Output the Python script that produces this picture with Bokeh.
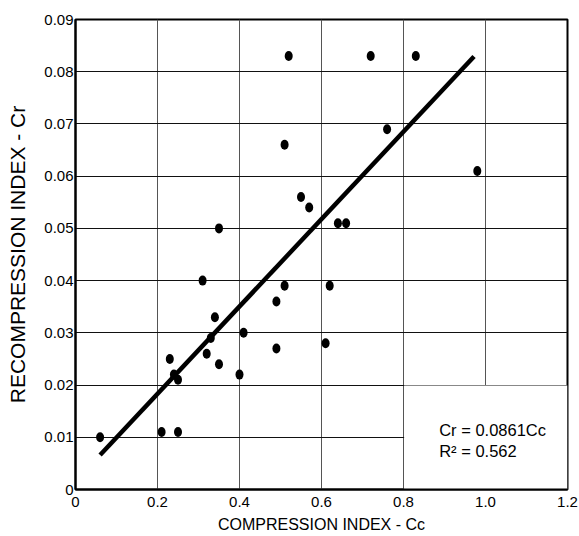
from bokeh.plotting import figure
from bokeh.models import Range1d, FixedTicker, Label
from bokeh.embed import file_html
from bokeh.resources import INLINE

# Data
cc = [0.06, 0.21, 0.25, 0.23, 0.24, 0.25, 0.31, 0.34, 0.33, 0.32, 0.35, 0.40,
      0.41, 0.49, 0.51, 0.49, 0.35, 0.51, 0.52, 0.55, 0.57, 0.72, 0.83, 0.76,
      0.98, 0.64, 0.66, 0.62, 0.61]
cr = [0.010, 0.011, 0.011, 0.025, 0.022, 0.021, 0.040, 0.033, 0.029, 0.026,
      0.024, 0.022, 0.030, 0.036, 0.039, 0.027, 0.050, 0.066, 0.083, 0.056,
      0.054, 0.083, 0.083, 0.069, 0.061, 0.051, 0.051, 0.039, 0.028]

fit_x = [0.06, 0.972]
fit_y = [0.0066, 0.0829]

x_ticks = [0, 0.2, 0.4, 0.6, 0.8, 1.0, 1.2]
x_tick_labels = ["0", "0.2", "0.4", "0.6", "0.8", "1.0", "1.2"]
y_ticks = [0, 0.01, 0.02, 0.03, 0.04, 0.05, 0.06, 0.07, 0.08, 0.09]
y_tick_labels = ["0", "0.01", "0.02", "0.03", "0.04", "0.05", "0.06", "0.07", "0.08", "0.09"]

eq_text = "Cr = 0.0861Cc"
r2_text = "R\u00b2 = 0.562"

SANS = "Liberation Sans"

p = figure(width=579, height=536, output_backend="svg", toolbar_location=None,
           x_range=Range1d(0, 1.2), y_range=Range1d(0, 0.09),
           min_border_left=75, min_border_right=12, min_border_top=19, min_border_bottom=47)
p.background_fill_color = "white"
p.border_fill_color = "white"
p.outline_line_color = "black"
p.outline_line_width = 2

# white box behind the equation (grid removed there)
p.quad(left=0.8015, right=1.2, bottom=0, top=0.0199, fill_color="white", line_color=None)

p.line(fit_x, fit_y, line_color="black", line_width=4.5)
p.ellipse(x=cc, y=cr, width=8, height=10, width_units="screen", height_units="screen",
          fill_color="black", line_color=None)

p.xaxis.ticker = FixedTicker(ticks=x_ticks)
p.yaxis.ticker = FixedTicker(ticks=y_ticks)
p.xaxis.major_label_overrides = {t: l for t, l in zip(x_ticks, x_tick_labels)}
p.yaxis.major_label_overrides = {t: l for t, l in zip(y_ticks, y_tick_labels)}

for ax in (p.xaxis, p.yaxis):
    ax.axis_line_color = "black"
    ax.axis_line_width = 2
    ax.major_tick_in = 0
    ax.major_tick_out = 0
    ax.minor_tick_line_color = None
    ax.major_label_text_font = SANS
    ax.major_label_text_font_size = "15px"
    ax.major_label_text_color = "black"
    ax.axis_label_text_font = SANS
    ax.axis_label_text_font_style = "normal"
    ax.axis_label_text_color = "black"

p.xaxis.major_label_standoff = 7
p.yaxis.major_label_standoff = 2
p.xaxis.axis_label = "COMPRESSION INDEX - Cc"
p.xaxis.axis_label_text_font_size = "16px"
p.xaxis.axis_label_standoff = 6
p.yaxis.axis_label = "RECOMPRESSION INDEX - Cr"
p.yaxis.axis_label_text_font_size = "21px"
p.yaxis.axis_label_standoff = 12

p.xgrid.grid_line_color = "#555555"
p.xgrid.grid_line_width = 1
p.ygrid.grid_line_color = "#111111"
p.ygrid.grid_line_width = 1

p.add_layout(Label(x=0.887, y=0.0113, text=eq_text, text_font=SANS, text_font_size="16.5px",
                   text_baseline="middle", text_color="black"))
p.add_layout(Label(x=0.887, y=0.0074, text=r2_text, text_font=SANS, text_font_size="16.5px",
                   text_baseline="middle", text_color="black"))

open("out.html", "w").write(file_html(p, INLINE))
